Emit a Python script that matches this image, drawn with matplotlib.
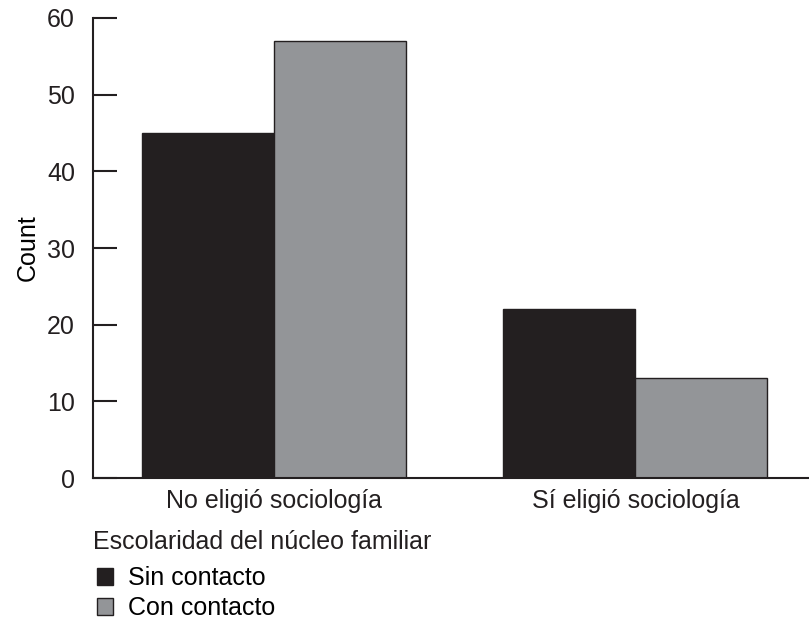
import numpy as np
import matplotlib.pyplot as plt

plt.rcParams['font.family'] = ['Liberation Sans', 'DejaVu Sans']

categories = ['No eligió sociología', 'Sí eligió sociología']
sin_contacto = [45, 22]
con_contacto = [57, 13]
series_names = ['Sin contacto', 'Con contacto']
legend_title = 'Escolaridad del núcleo familiar'
yticks = [0, 10, 20, 30, 40, 50, 60]

dark = '#231f20'
grey = '#939598'
fs = 18

fig = plt.figure(figsize=(8.09, 6.2), dpi=100)
ax = fig.add_axes([0.115, 0.229, 0.885, 0.742])

x = np.arange(len(categories))
w = 0.365
b1 = ax.bar(x - w / 2, sin_contacto, w, color=dark, edgecolor=dark, linewidth=1, label=series_names[0])
b2 = ax.bar(x + w / 2, con_contacto, w, color=grey, edgecolor=dark, linewidth=1, label=series_names[1])

ax.set_xlim(-0.5, 1.48)
ax.set_ylim(0, 60)
ax.set_yticks(yticks)
ax.set_xticks(x)
ax.set_xticklabels(categories, fontsize=fs)
ax.tick_params(axis='y', direction='in', length=17, width=1.5, labelsize=fs, colors=dark, pad=13)
ax.tick_params(axis='x', length=0, pad=8, colors=dark)
for s in ['top', 'right']:
    ax.spines[s].set_visible(False)
for s in ['left', 'bottom']:
    ax.spines[s].set_linewidth(1.5)
    ax.spines[s].set_color(dark)
ax.set_ylabel('Count', fontsize=fs, labelpad=5)

# legend title as separate text, entries below it
fig.text(93 / 809, 1 - 542 / 620, legend_title, fontsize=fs, color=dark,
         ha='left', va='center')
leg = fig.legend(handles=[b1, b2], loc='upper left',
                 bbox_to_anchor=(0.12, 1 - 566 / 620), frameon=False, fontsize=fs,
                 handlelength=0.65, handleheight=0.65, handletextpad=0.6,
                 labelspacing=0.25, borderaxespad=0, borderpad=0)

plt.savefig('out.png', dpi=100)
